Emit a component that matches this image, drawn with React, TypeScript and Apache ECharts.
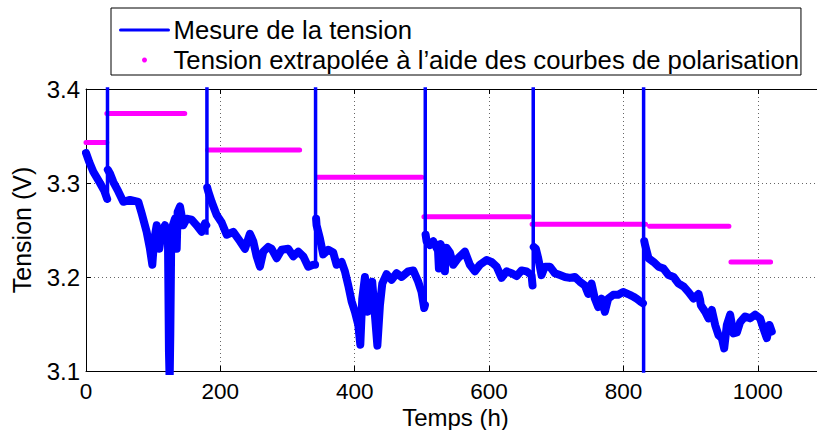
import React, { useEffect, useRef } from "react";
import * as echarts from "echarts";

const FONT = "'Liberation Sans', Arial, Helvetica, sans-serif";

// Axis settings
const xMin = 0;
const xMax = 1100;
const xInterval = 200;
const yMin = 3.1;
const yMax = 3.4;
const yInterval = 0.1;

const legendNames = [
  "Mesure de la tension",
  "Tension extrapolée à l’aide des courbes de polarisation",
];

// Measured voltage, between the current-change spikes
const measureSeg1: [number, number][] = [
  [0, 3.332], [5, 3.322], [10.9, 3.312], [20.8, 3.3], [27, 3.292], [31.5, 3.283],
];
const measureSeg2: [number, number][] = [
  [32.5, 3.314], [35.7, 3.31], [40.7, 3.301], [48.1, 3.291], [55.5, 3.28], [65.5, 3.282],
  [77.9, 3.28], [82.8, 3.268], [90.3, 3.248], [95.2, 3.23], [98.7, 3.213], [101.2, 3.238],
  [105.2, 3.255], [109.1, 3.23], [112.6, 3.248], [117.6, 3.255], [122, 3.241], [123.5, 3.12],
  [124.5, 3.09], [125.5, 3.14], [127, 3.25], [132.4, 3.262], [135, 3.23], [136.4, 3.269],
  [139.9, 3.275], [144.8, 3.255], [149.8, 3.262], [157.2, 3.261], [164.7, 3.255],
  [172.2, 3.248], [177, 3.257], [179, 3.255],
];
const measureSeg3: [number, number][] = [
  [180.5, 3.295], [182, 3.291], [187, 3.28], [194.5, 3.266], [201.9, 3.258], [209.4, 3.245],
  [219.2, 3.248], [229.2, 3.238], [236.6, 3.23], [244, 3.246], [249, 3.238], [254, 3.222],
  [258.9, 3.211], [263.9, 3.227], [271.3, 3.232], [276.3, 3.23], [283.8, 3.22], [291.2, 3.229],
  [301, 3.23], [308.5, 3.222], [316, 3.227], [323.4, 3.222], [330.8, 3.211], [338.3, 3.213],
  [341, 3.213],
];
const measureSeg4: [number, number][] = [
  [342.5, 3.262], [343.2, 3.255], [348.2, 3.241], [353.1, 3.224], [360.6, 3.229], [368, 3.226],
  [373, 3.213], [380.5, 3.216], [385.4, 3.206], [390.4, 3.191], [395.4, 3.174], [400.3, 3.163],
  [405.3, 3.149], [408.3, 3.128], [411.2, 3.177], [415.2, 3.2], [419.1, 3.163], [422.6, 3.18],
  [426, 3.195], [430, 3.16], [433.7, 3.127], [437.5, 3.17], [441, 3.193], [447.4, 3.203],
  [454.9, 3.197], [462.3, 3.204], [469.8, 3.2], [479.6, 3.206], [487.1, 3.207], [494.5, 3.195],
  [499.5, 3.184], [503.4, 3.167], [504.5, 3.17],
];
const measureSeg5: [number, number][] = [
  [505.5, 3.245], [507, 3.238], [511.9, 3.234], [516.9, 3.238], [521.9, 3.231], [524, 3.228],
  [525.3, 3.209], [526.5, 3.232], [527.8, 3.235], [531.8, 3.227], [533, 3.225], [534.2, 3.206],
  [535.5, 3.228], [536.7, 3.231], [541.7, 3.226], [546.6, 3.213], [554, 3.22], [564, 3.227],
  [571.4, 3.213], [578.9, 3.206], [586.3, 3.213], [596.3, 3.218], [603.7, 3.216], [611.2, 3.211],
  [618.6, 3.199], [626, 3.206], [633.5, 3.204], [641, 3.201], [648.4, 3.207], [655.8, 3.206],
  [663.2, 3.202], [664.7, 3.191],
];
const measureSeg6: [number, number][] = [
  [666.5, 3.232], [669.6, 3.23], [673.1, 3.22], [678.1, 3.202], [683, 3.211], [690.5, 3.211],
  [697.9, 3.204], [705.4, 3.202], [712.8, 3.2], [720.2, 3.199], [727.7, 3.2], [735.1, 3.195],
  [742.6, 3.191], [747.5, 3.182], [752.5, 3.193], [757.4, 3.177], [762.4, 3.168], [767.4, 3.177],
  [772.3, 3.163], [777.3, 3.177], [784.7, 3.181], [792.1, 3.181], [799.6, 3.184], [809.5, 3.181],
  [815, 3.179], [819.5, 3.177], [824.9, 3.174], [829, 3.172],
];
const measureSeg7: [number, number][] = [
  [831, 3.238], [832.2, 3.234], [837.3, 3.22], [844.8, 3.216], [852.2, 3.211], [859.7, 3.209],
  [867.1, 3.202], [874.6, 3.2], [882, 3.193], [889.4, 3.19], [896.9, 3.184], [904.3, 3.177],
  [911.8, 3.182], [914, 3.176], [915.2, 3.17], [921.6, 3.163], [926.6, 3.156], [931.5, 3.165],
  [936.5, 3.149], [941.5, 3.138], [946.4, 3.135], [949.9, 3.124], [953.9, 3.149], [958.8, 3.16],
  [963.8, 3.14], [968.8, 3.141], [973.7, 3.152], [981.1, 3.158], [988.5, 3.156], [996, 3.16],
  [1003.4, 3.156], [1008.4, 3.145], [1013.4, 3.135], [1017.4, 3.149], [1020.8, 3.142],
];
const measureSegments = [
  measureSeg1, measureSeg2, measureSeg3, measureSeg4, measureSeg5, measureSeg6, measureSeg7,
];

// Vertical transients of the measured voltage
const spikeTimes = [32, 180, 341.7, 505, 665.7, 830];
const spikeLow = [3.28, 3.245, 3.213, 3.165, 3.19, 3.05];
const spikeHigh = [3.6, 3.6, 3.6, 3.6, 3.6, 3.6];

// Voltage extrapolated from the polarisation curves
const polStart = [0, 31, 181, 344, 503, 664, 839, 960];
const polEnd = [31, 147, 318, 500, 660, 833, 957, 1019];
const polVolt = [3.343, 3.374, 3.335, 3.306, 3.264, 3.256, 3.254, 3.216];

export default function App() {
  const ref = useRef<HTMLDivElement>(null);

  useEffect(() => {
    if (!ref.current) return;
    const chart = echarts.init(ref.current, null, { renderer: "svg" });

    const measureData: any[] = [];
    measureSegments.forEach((seg, i) => {
      if (i > 0) measureData.push(["-", "-"]);
      seg.forEach((p) => measureData.push(p));
    });

    const spikeData: any[] = [];
    spikeTimes.forEach((t, i) => {
      if (i > 0) spikeData.push(["-", "-"]);
      spikeData.push([t, spikeLow[i]]);
      spikeData.push([t, spikeHigh[i]]);
    });

    const polData: any[] = [];
    polStart.forEach((s, i) => {
      if (i > 0) polData.push(["-", "-"]);
      polData.push([s, polVolt[i]]);
      polData.push([polEnd[i], polVolt[i]]);
    });

    const axisLineStyle = { color: "#000", width: 1 };
    const gridLine = { show: true, lineStyle: { color: "#666", type: [1, 3], width: 1 } };

    const option: any = {
      animation: false,
      backgroundColor: "#fff",
      textStyle: { fontFamily: FONT },
      grid: {
        left: 86,
        top: 89,
        right: -8,
        bottom: 59,
        containLabel: false,
        outerBoundsMode: "none",
      },
      legend: {
        left: 111,
        top: 8,
        orient: "vertical",
        padding: [9, 2, 2, 8],
        itemGap: 4,
        itemWidth: 48,
        itemHeight: 5,
        selectedMode: false,
        borderColor: "#000",
        borderWidth: 1,
        backgroundColor: "#fff",
        lineStyle: { width: 3 },
        textStyle: { fontSize: 25.7, color: "#000", fontFamily: FONT },
        data: [
          { name: legendNames[0], itemStyle: { opacity: 0 }, lineStyle: { width: 3, opacity: 1 } },
          { name: legendNames[1], icon: "circle" },
        ],
      },
      xAxis: [
        {
          type: "value",
          position: "bottom",
          min: xMin,
          max: xMax,
          interval: xInterval,
          name: "Temps (h)",
          nameLocation: "middle",
          nameGap: 36,
          nameMoveOverlap: false,
          nameTextStyle: { fontSize: 24, lineHeight: 20, color: "#000", fontFamily: FONT },
          axisLine: { show: true, onZero: false, lineStyle: axisLineStyle },
          axisTick: { show: true, inside: true, length: 5, lineStyle: axisLineStyle },
          axisLabel: {
            show: true,
            fontSize: 22.5,
            lineHeight: 18,
            color: "#000",
            margin: 11,
            showMaxLabel: false,
            fontFamily: FONT,
            formatter: (v: number) => String(v),
          },
          splitLine: gridLine,
        },
        {
          type: "value",
          position: "top",
          min: xMin,
          max: xMax,
          interval: xInterval,
          axisLine: { show: true, onZero: false, lineStyle: axisLineStyle },
          axisTick: { show: true, inside: true, length: 5, lineStyle: axisLineStyle },
          axisLabel: { show: false },
          splitLine: { show: false },
        },
      ],
      yAxis: [
        {
          type: "value",
          position: "left",
          min: yMin,
          max: yMax,
          interval: yInterval,
          name: "Tension (V)",
          nameLocation: "middle",
          nameGap: 52,
          nameMoveOverlap: false,
          nameRotate: 90,
          nameTextStyle: { fontSize: 25, color: "#000", fontFamily: FONT },
          axisLine: { show: true, onZero: false, lineStyle: axisLineStyle },
          axisTick: { show: true, inside: true, length: 5, lineStyle: axisLineStyle },
          axisLabel: {
            fontSize: 24,
            color: "#000",
            margin: 6,
            fontFamily: FONT,
            formatter: (v: number) => v.toFixed(1),
          },
          splitLine: gridLine,
        },
        {
          type: "value",
          position: "right",
          min: yMin,
          max: yMax,
          interval: yInterval,
          axisLine: { show: true, onZero: false, lineStyle: axisLineStyle },
          axisTick: { show: true, inside: true, length: 5, lineStyle: axisLineStyle },
          axisLabel: { show: false },
          splitLine: { show: false },
        },
      ],
      series: [
        {
          name: legendNames[1],
          type: "line",
          xAxisIndex: 0,
          yAxisIndex: 0,
          data: polData,
          showSymbol: false,
          symbol: "none",
          connectNulls: false,
          color: "#ff00ff",
          itemStyle: { color: "#ff00ff" },
          lineStyle: { color: "#ff00ff", width: 5, cap: "round" },
          silent: true,
        },
        {
          name: legendNames[0],
          type: "line",
          xAxisIndex: 0,
          yAxisIndex: 0,
          data: measureData,
          showSymbol: false,
          symbol: "none",
          connectNulls: false,
          color: "#0000ff",
          lineStyle: { color: "#0000ff", width: 8, join: "round", cap: "round" },
          silent: true,
        },
        {
          name: legendNames[0],
          type: "line",
          xAxisIndex: 0,
          yAxisIndex: 0,
          data: spikeData,
          showSymbol: false,
          symbol: "none",
          connectNulls: false,
          color: "#0000ff",
          lineStyle: { color: "#0000ff", width: 3.5 },
          silent: true,
        },
      ],
    };

    chart.setOption(option);
    return () => chart.dispose();
  }, []);

  return (
    <div
      ref={ref}
      style={{ position: "fixed", left: 0, top: 0, width: 817, height: 430, background: "#fff" }}
    />
  );
}
